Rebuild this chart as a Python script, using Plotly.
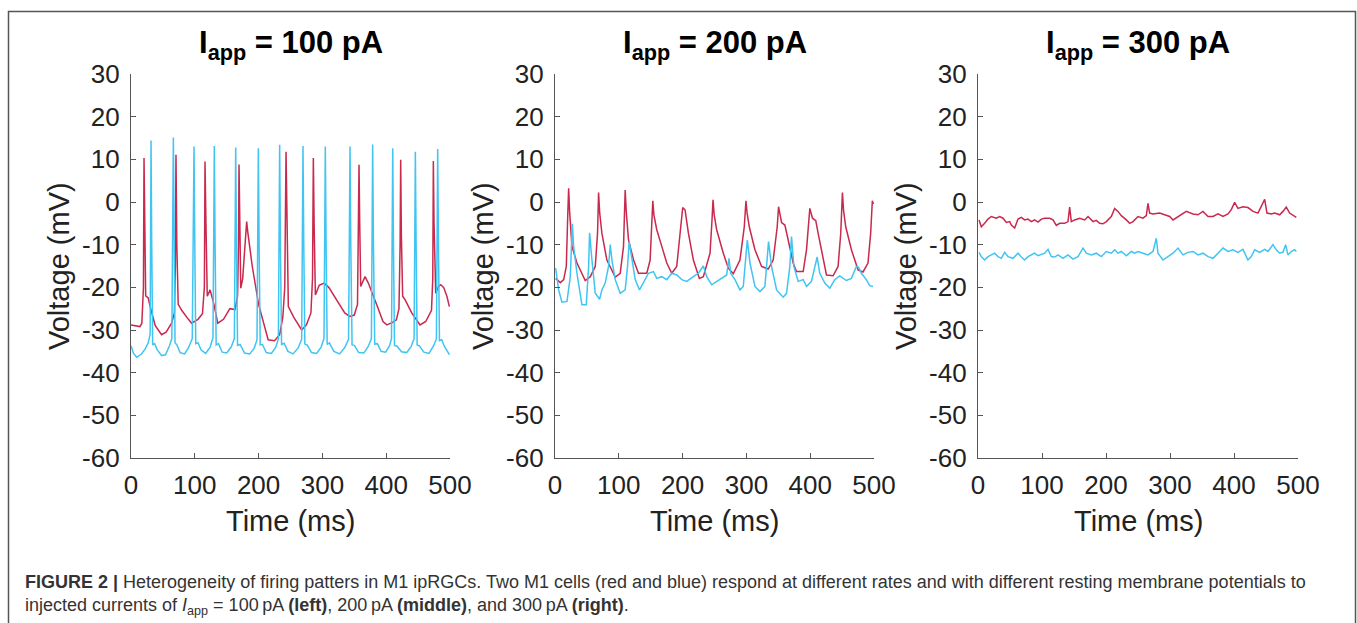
import plotly.graph_objects as go

# ---------------- data (time in ms, voltage in mV) ----------------
# Panel 1: I_app = 100 pA
t_red_100 = [0, 14, 17, 19.5, 20.4, 21.5, 23, 27, 30, 38, 48, 55, 63.7, 68, 69.5, 70.5, 71.8, 74, 80, 90, 95,
             105, 112, 115, 116, 117.5, 119.5, 124, 130, 136, 145, 155, 163, 167, 168.5, 169.3, 170.5, 172, 175,
             179, 181.3, 183, 190, 200, 210, 215, 225, 233, 238, 241, 243, 244.5, 246.6, 255, 267.5, 275, 282,
             284.5, 285.8, 287, 289, 295, 302.5, 310, 320, 335, 343, 350, 355, 356.5, 357.4, 358.5, 360, 366.8,
             372, 385, 395, 401, 410, 416, 420, 421.8, 422.7, 423.8, 425.8, 429.5, 440, 453, 462, 471, 473,
             473.9, 475, 477.6, 482, 485.4, 490, 495, 499]
v_red_100 = [-28.8, -29.2, -28.4, -20, 10.3, -5, -22, -22.5, -24.5, -29, -31.1, -30.5, -28.4, -26, -15, 11.1, -10,
             -24.0, -25.5, -27.5, -28.4, -27.5, -26.2, -20, 9.5, -5, -22.1, -20.6, -24, -28.4, -27.5, -25, -25.2,
             -22, -10, 8.8, -10, -20.2, -18, -10, -4.6, -7, -15, -24, -30, -32.3, -32.5, -31.1, -27, -20, 11.8,
             -5, -24.5, -27, -30, -28.8, -26, -18, 10.3, -5, -21.8, -19.5, -19, -20, -22.5, -26, -26.8, -26.5,
             -24, -10, 8.7, -5, -19.8, -17.5, -19, -24, -28, -28.8, -28.2, -27.6, -25, -10, 9.9, -8, -22.1,
             -22.9, -26, -28.8, -28, -25.4, -18, 9.6, -5, -21.4, -19.8, -19.4, -20, -22, -24.5]

t_blue_100 = [0, 4, 9, 16, 22, 27, 30, 31.4, 32.5, 34, 37, 41, 48, 54, 60, 64, 66.4, 67.5, 69, 72, 77, 84, 90,
              96, 98.8, 100, 101.5, 105, 110, 117, 124, 128.5, 130.6, 131.8, 133.5, 137, 143, 150, 157, 162,
              164.1, 165.3, 167, 171, 178, 186, 193, 197.5, 199.6, 200.8, 202.5, 206, 212, 220, 227, 231, 233,
              234.2, 236, 240, 246, 254, 262, 267.5, 269.6, 270.8, 272.5, 276, 283, 291, 298, 302.5, 304.6,
              305.8, 307.5, 311, 318, 327, 335, 341, 343.3, 344.5, 346.5, 350, 357, 365, 372, 376.8, 378.8,
              380, 382, 386, 392, 399, 405, 408.3, 410.2, 411.4, 413, 417, 424, 432, 439, 443.7, 445.7, 446.9,
              448.5, 452, 459, 467, 474, 478.7, 480.7, 481.9, 483.5, 487, 491, 496, 499]
v_blue_100 = [-33.7, -35.5, -36.4, -35.7, -34.5, -33, -31, 14.4, -10, -33.5, -33.2, -34.6, -36.0, -35.8, -33.8,
              -32, 15.1, -10, -33, -33.5, -35.3, -35.6, -34.2, -32.0, 13.0, -10, -33.2, -33.0, -34.7, -35.5,
              -34, -31.8, 13.1, -10, -33.5, -33.2, -35.2, -35.4, -34, -32, 12.8, -10, -33.6, -33.4, -35.4,
              -35.6, -34.3, -32.3, 12.6, -10, -33.5, -33.4, -35.3, -35.5, -34, -32.1, 13.4, -10, -33.4, -33.1,
              -35.0, -35.6, -34.2, -32.2, 13.1, -10, -33.3, -33.5, -35.3, -35.5, -34, -32, 13.0, -10, -33.4,
              -33.0, -35.0, -35.6, -34.1, -32.2, 13.0, -10, -33.5, -33.6, -35.3, -35.4, -33.8, -32.0, 13.5,
              -10, -33.3, -33.2, -35, -35.2, -33.8, -32, 12.6, -10, -33.6, -33.8, -35.1, -35.3, -33.9, -32,
              11.8, -10, -33.5, -33.7, -35.2, -35.5, -33.8, -32.1, 12.4, -10, -32.5, -32.3, -33.8, -35, -35.8]

# Panel 2: I_app = 200 pA
t_red_200 = [1.0, 8.3, 13.6, 17.7, 20.0, 21.4, 23.0, 26.6, 34.4, 47.4, 55.3, 63.1, 66.7, 68.3, 70.0, 73.5, 81.3,
             94.4, 102.2, 107.4, 110.0, 111.8, 115.2, 123.1, 130.9, 143.9, 149.1, 153.3, 155.0, 159.5, 167.4,
             175.2, 183.0, 190.8, 197.1, 200.2, 203.9, 209.1, 216.9, 226.3, 232.5, 243.0, 246.1, 247.7, 249.5,
             253.4, 263.8, 271.6, 279.5, 289.9, 296.7, 299.3, 301.0, 304.5, 313.4, 323.8, 334.2, 342.0, 348.3,
             350.4, 355.1, 360.3, 365.5, 373.3, 378.5, 389.0, 394.2, 399.4, 403.6, 408.8, 412.4, 420.3, 425.5,
             435.9, 443.7, 447.9, 450.5, 452.3, 455.7, 464.6, 475.0, 482.8, 490.6, 494.8, 497.4, 499.0]
v_red_200 = [-17.9, -18.9, -18.2, -15.1, -3.0, 3.2, -2.5, -10.4, -14.3, -18.4, -17.5, -15.1, -7.3, 2.2, -2.5,
             -7.3, -13.6, -17.6, -16.7, -10.4, 2.8, -2.5, -8.9, -13.6, -16.7, -16.7, -13.6, 0.3, -3.0, -6.5,
             -10.4, -14.3, -16.7, -15.1, -5.8, -1.3, -1.9, -7.3, -13.6, -17.9, -17.5, -12.0, -4.2, 0.5, -3.0,
             -6.5, -12.0, -15.5, -16.8, -13.6, -5.8, 0.3, -2.5, -5.8, -11.2, -15.1, -15.7, -13.6, -5.8, -1.1,
             -4.8, -5.4, -8.9, -14.3, -16.3, -16.3, -11.2, -1.5, -3.8, -4.4, -7.3, -13.6, -17.1, -17.3, -15.1,
             -7.3, 2.2, -2.0, -5.8, -11.2, -15.9, -16.4, -14.3, -7.3, 0.3, -0.5]

t_blue_200 = [1.0, 5.7, 10.9, 18.8, 24.0, 27.1, 29.2, 34.4, 42.2, 49.0, 52.7, 54.2, 57.9, 63.1, 69.9, 73.5,
              78.7, 83.9, 86.6, 89.2, 94.4, 102.2, 110.0, 113.7, 116.3, 120.4, 125.7, 132.4, 138.7, 146.5, 154.3,
              159.5, 167.4, 175.2, 183.0, 190.8, 198.7, 206.5, 216.9, 224.7, 232.5, 237.8, 245.6, 253.4, 261.2,
              269.0, 272.7, 275.3, 282.1, 289.9, 295.1, 301.4, 305.6, 313.4, 321.2, 329.0, 334.7, 339.4, 347.3,
              357.7, 362.9, 368.1, 370.7, 374.4, 381.1, 389.0, 394.2, 402.0, 410.9, 415.0, 422.9, 430.7, 438.5,
              446.3, 456.7, 464.6, 472.4, 476.0, 480.2, 488.0, 493.2, 498.5]
v_blue_200 = [-15.5, -20.6, -23.5, -23.3, -17.5, -5.1, -10.4, -16.7, -24.1, -24.1, -15.1, -7.2, -13.6, -21.4,
              -22.8, -20.6, -19.0, -15.1, -10.0, -13.6, -18.2, -21.4, -20.6, -15.1, -9.3, -13.6, -18.2, -20.6,
              -19.0, -16.7, -16.3, -17.9, -17.5, -18.2, -16.7, -17.1, -18.2, -18.6, -17.5, -16.7, -15.0, -17.5,
              -19.4, -18.6, -17.9, -17.1, -13.2, -16.7, -18.2, -20.6, -19.8, -8.9, -14.3, -19.8, -21.0, -19.8,
              -9.3, -15.1, -20.6, -22.3, -21.4, -15.1, -8.1, -15.1, -18.6, -18.2, -19.8, -18.6, -12.9, -16.7,
              -19.0, -20.2, -18.2, -17.3, -18.4, -17.9, -15.1, -15.3, -16.7, -18.2, -19.6, -19.8]

# Panel 3: I_app = 300 pA
t_red_300 = [1.6, 5.2, 10.4, 15.6, 20.8, 28.6, 33.9, 39.1, 44.3, 49.5, 52.1, 57.3, 62.5, 67.7, 72.9, 78.1, 83.3,
             88.5, 93.7, 99.0, 104.2, 112.0, 117.2, 122.4, 127.6, 135.4, 140.6, 143.2, 145.8, 151.0, 158.8,
             166.7, 171.9, 179.7, 184.9, 190.1, 195.3, 200.5, 208.3, 213.5, 218.7, 223.9, 231.8, 237.0, 242.2,
             250.0, 257.8, 263.0, 265.6, 268.2, 273.4, 283.8, 291.6, 299.5, 304.7, 312.5, 320.3, 325.5, 335.9,
             343.7, 351.5, 359.4, 367.2, 375.0, 382.8, 390.6, 395.8, 401.0, 406.2, 414.0, 421.8, 429.7, 437.5,
             442.7, 447.9, 451.5, 458.3, 463.5, 471.3, 476.5, 481.7, 486.9, 492.2, 497.4]
v_red_300 = [-4.2, -5.8, -5.0, -4.0, -3.4, -3.8, -3.4, -3.8, -4.8, -4.6, -5.4, -6.1, -4.0, -3.6, -4.2, -4.0,
             -4.6, -4.2, -4.7, -4.0, -3.8, -3.8, -4.2, -5.5, -5.0, -5.0, -4.6, -1.2, -4.6, -4.2, -3.8, -4.2,
             -3.4, -4.6, -4.3, -5.0, -5.1, -4.6, -3.4, -1.5, -2.2, -3.2, -4.2, -5.0, -4.6, -3.4, -3.8, -3.2,
             -0.3, -2.6, -2.8, -2.6, -3.0, -3.4, -4.2, -3.4, -2.6, -2.2, -2.8, -3.0, -2.2, -3.4, -3.4, -2.8,
             -3.4, -2.8, -1.8, -0.1, -1.5, -1.1, -1.3, -2.2, -2.6, -1.1, 0.6, -2.6, -2.8, -2.6, -3.0, -2.2,
             -1.2, -2.6, -3.2, -3.6]

t_blue_300 = [1.6, 5.2, 10.4, 15.6, 20.8, 26.0, 31.2, 36.5, 41.7, 46.9, 54.7, 62.5, 67.7, 72.9, 78.1, 83.3,
              88.5, 93.7, 99.0, 104.2, 109.4, 114.6, 119.8, 125.0, 132.8, 140.6, 148.4, 156.2, 164.1, 169.3,
              177.1, 184.9, 192.7, 200.5, 208.3, 213.5, 218.7, 223.9, 231.8, 239.6, 244.8, 250.0, 257.8, 265.6,
              273.4, 278.6, 281.2, 289.0, 296.8, 304.7, 312.5, 320.3, 328.1, 335.9, 343.7, 351.5, 359.4, 367.2,
              375.0, 382.8, 390.6, 398.4, 406.2, 414.0, 421.8, 427.0, 432.3, 440.1, 447.9, 453.1, 460.9, 466.1,
              471.3, 476.5, 480.7, 484.3, 489.5, 494.8, 497.4]
v_blue_300 = [-11.8, -12.8, -13.6, -12.8, -12.4, -12.0, -12.8, -13.2, -11.8, -12.8, -13.2, -12.0, -12.9, -13.6,
              -12.8, -12.4, -12.0, -12.6, -12.2, -12.0, -11.1, -12.8, -12.9, -12.4, -13.2, -12.4, -13.4, -12.8,
              -10.8, -12.0, -12.4, -12.0, -12.8, -11.6, -12.0, -11.2, -12.0, -11.6, -12.6, -11.6, -12.0, -11.6,
              -12.0, -12.4, -11.6, -8.5, -12.0, -13.6, -12.8, -12.0, -10.8, -12.4, -11.8, -11.6, -12.4, -12.0,
              -12.8, -13.2, -12.0, -10.8, -11.6, -11.2, -11.8, -11.1, -13.6, -12.8, -11.2, -11.8, -11.1, -11.6,
              -10.0, -11.2, -12.0, -11.8, -10.0, -12.4, -11.6, -11.2, -11.6]

panel_titles = ["100", "200", "300"]
x_ticks = [0, 100, 200, 300, 400, 500]
x_ticktext = ["0", "100", "200", "300", "400", "500"]
y_ticks = [30, 20, 10, 0, -10, -20, -30, -40, -50, -60]
y_ticktext = ["30", "20", "10", "0", "-10", "-20", "-30", "-40", "-50", "-60"]

# ---------------- figure ----------------
W, H = 1357, 623
RED = "#C8294D"
BLUE = "#40C4F2"
FONT = "Liberation Sans, Arial, sans-serif"

series = [
    (t_red_100, v_red_100, t_blue_100, v_blue_100),
    (t_red_200, v_red_200, t_blue_200, v_blue_200),
    (t_red_300, v_red_300, t_blue_300, v_blue_300),
]
x_px = [(131, 450), (555, 874), (978, 1298)]
y_px = (74, 458)

fig = go.Figure()
layout = dict(
    width=W, height=H, autosize=False,
    margin=dict(l=0, r=0, t=0, b=0, pad=0, autoexpand=False),
    paper_bgcolor="white", plot_bgcolor="white",
    showlegend=False,
    font=dict(family=FONT, color="#222"),
    annotations=[], shapes=[],
)

for i, (tr, vr, tb, vb) in enumerate(series):
    xa = "x" if i == 0 else f"x{i+1}"
    ya = "y" if i == 0 else f"y{i+1}"
    fig.add_trace(go.Scatter(x=tr, y=vr, mode="lines", line=dict(color=RED, width=1.5),
                             xaxis=xa, yaxis=ya, hoverinfo="skip"))
    fig.add_trace(go.Scatter(x=tb, y=vb, mode="lines", line=dict(color=BLUE, width=1.5),
                             xaxis=xa, yaxis=ya, hoverinfo="skip"))
    x0, x1 = x_px[i]
    kx = "xaxis" if i == 0 else f"xaxis{i+1}"
    ky = "yaxis" if i == 0 else f"yaxis{i+1}"
    layout[kx] = dict(
        domain=[x0 / W, x1 / W], range=[0, 500], anchor=ya, automargin=False,
        tickmode="array", tickvals=x_ticks, ticktext=x_ticktext,
        ticks="inside", ticklen=5, tickcolor="#555",
        showline=True, linecolor="#555", linewidth=1.2, showgrid=False, zeroline=False,
        tickfont=dict(size=26, color="#222", family=FONT), ticklabelstandoff=4,
    )
    layout[ky] = dict(
        domain=[1 - y_px[1] / H, 1 - y_px[0] / H], range=[-60, 30], anchor=xa, automargin=False,
        tickmode="array", tickvals=y_ticks, ticktext=y_ticktext,
        ticks="inside", ticklen=5, tickcolor="#555",
        showline=True, linecolor="#555", linewidth=1.2, showgrid=False, zeroline=False,
        tickfont=dict(size=26, color="#222", family=FONT), ticklabelstandoff=5,
    )
    cx = (x0 + x1) / 2
    # subplot title
    layout["annotations"].append(dict(
        text=f"<b>I<sub>app</sub> = {panel_titles[i]} pA</b>", xref="paper", yref="paper",
        x=cx / W, y=1 - 45 / H, xanchor="center", yanchor="middle", showarrow=False,
        font=dict(size=31, color="black", family=FONT)))
    # x-axis title
    layout["annotations"].append(dict(
        text="Time (ms)", xref="paper", yref="paper",
        x=cx / W, y=1 - 521 / H, xanchor="center", yanchor="middle", showarrow=False,
        font=dict(size=29, color="#222", family=FONT)))
    # y-axis title
    layout["annotations"].append(dict(
        text="Voltage (mV)", xref="paper", yref="paper", textangle=-90,
        x=(x0 - 72) / W, y=1 - 266 / H, xanchor="center", yanchor="middle", showarrow=False,
        font=dict(size=29, color="#222", family=FONT)))

# caption
layout["annotations"].append(dict(
    text="<b>FIGURE 2 |</b> Heterogeneity of firing patters in M1 ipRGCs. Two M1 cells (red and blue) respond at "
         "different rates and with different resting membrane potentials to",
    xref="paper", yref="paper", x=23 / W, y=1 - 582 / H, xanchor="left", yanchor="middle",
    showarrow=False, font=dict(size=18, color="#333", family=FONT)))
layout["annotations"].append(dict(
    text="injected currents of <i>I</i><sub>app</sub> = 100\u2009pA <b>(left)</b>, 200\u2009pA <b>(middle)</b>, "
         "and 300\u2009pA <b>(right)</b>.",
    xref="paper", yref="paper", x=23 / W, y=1 - 606 / H, xanchor="left", yanchor="middle",
    showarrow=False, font=dict(size=18, color="#333", family=FONT)))

# frame
layout["shapes"].append(dict(
    type="rect", xref="paper", yref="paper",
    x0=8.5 / W, x1=1355.5 / W, y0=-0.05, y1=1 - 11.5 / H,
    line=dict(color="#555", width=1.5), fillcolor="rgba(0,0,0,0)"))

fig.update_layout(**layout)
fig.write_html(
    "out.html",
    config={"responsive": False, "displayModeBar": False},
    post_script="document.documentElement.style.margin='0';document.body.style.margin='0';"
                "document.body.style.overflow='hidden';",
)
